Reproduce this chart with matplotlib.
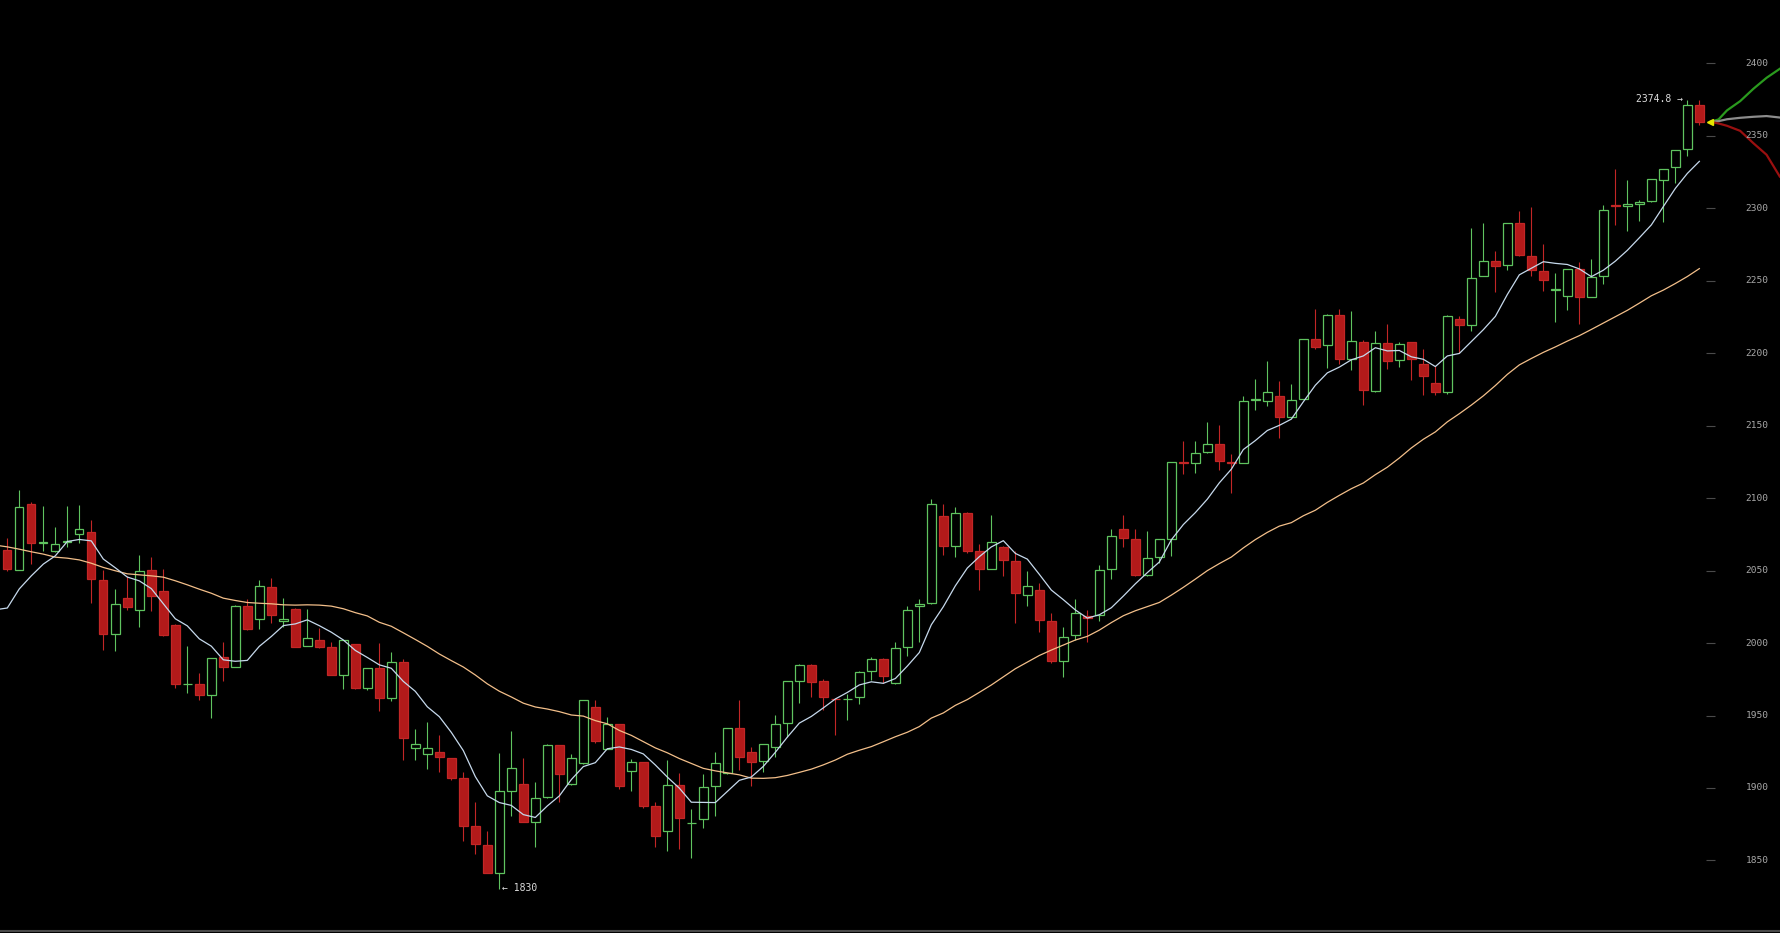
import matplotlib
matplotlib.use("Agg")
import matplotlib.pyplot as plt
from matplotlib.collections import LineCollection
import numpy as np
import pandas as pd

# OHLC per candle, oldest first
opens = [
    2064.4, 2050.5, 2096.1, 2069.2, 2063.4, 2069.9, 2075.2, 2076.8, 2043.4, 2006.1,
    2031.0, 2022.9, 2050.5, 2036.0, 2012.6, 1971.6, 1971.6, 1964.0, 1990.2, 1983.8,
    2025.7, 2016.5, 2038.6, 2014.9, 2023.4, 1998.3, 2002.0, 1997.2, 1978.3, 1999.3,
    1969.3, 1982.7, 1962.0, 1986.8, 1927.4, 1923.3, 1924.7, 1920.5, 1906.7, 1873.8,
    1860.6, 1841.1, 1898.2, 1902.5, 1876.8, 1893.6, 1929.7, 1902.5, 1917.0, 1955.9,
    1927.2, 1944.0, 1912.0, 1917.7, 1887.6, 1870.5, 1902.1, 1875.6, 1878.3, 1901.4,
    1910.1, 1941.2, 1924.6, 1918.9, 1928.5, 1944.7, 1974.1, 1984.9, 1973.9, 1961.7,
    1961.2, 1962.6, 1981.0, 1988.8, 1972.3, 1997.1, 2025.9, 2027.5, 2087.8, 2067.3,
    2089.7, 2063.7, 2051.0, 2066.2, 2056.8, 2033.3, 2036.3, 2015.3, 1987.9, 2005.7,
    2018.8, 2019.5, 2051.0, 2078.6, 2071.7, 2046.7, 2059.1, 2071.8, 2125.2, 2124.3,
    2131.6, 2137.3, 2125.3, 2124.2, 2167.7, 2167.0, 2170.2, 2156.0, 2168.6, 2209.8,
    2205.9, 2226.6, 2196.0, 2207.8, 2174.1, 2207.1, 2195.1, 2207.8, 2192.8, 2179.5,
    2173.0, 2223.7, 2219.3, 2253.6, 2263.7, 2260.7, 2290.0, 2267.4, 2257.0, 2243.7,
    2239.3, 2258.2, 2238.9, 2253.1, 2302.2, 2301.5, 2303.1, 2305.0, 2319.5, 2328.7,
    2341.1, 2371.5,
]
highs = [
    2072.4, 2105.8, 2097.3, 2094.7, 2080.0, 2094.7, 2095.4, 2085.1, 2050.5, 2037.4,
    2046.4, 2060.9, 2059.3, 2051.0, 2013.0, 1998.1, 1979.2, 1990.0, 2000.6, 2026.1,
    2030.3, 2043.6, 2044.8, 2031.0, 2024.3, 2023.4, 2010.3, 2000.4, 2002.3, 1999.5,
    1982.9, 2000.0, 1993.7, 1988.9, 1940.6, 1945.4, 1936.6, 1920.8, 1911.3, 1890.6,
    1870.3, 1924.4, 1939.4, 1920.5, 1903.9, 1930.2, 1929.9, 1923.3, 1960.8, 1960.8,
    1948.8, 1944.2, 1919.8, 1917.9, 1890.6, 1919.3, 1910.6, 1885.3, 1909.4, 1925.1,
    1941.2, 1960.8, 1928.5, 1930.4, 1950.4, 1973.9, 1985.4, 1985.4, 1975.0, 1962.1,
    1965.0, 1980.6, 1990.7, 1989.5, 2000.6, 2025.7, 2030.5, 2099.3, 2095.9, 2093.8,
    2090.4, 2068.3, 2088.5, 2067.1, 2063.7, 2049.4, 2041.3, 2020.6, 2011.4, 2030.5,
    2022.5, 2054.0, 2078.6, 2088.5, 2078.6, 2077.1, 2072.0, 2125.2, 2139.2, 2139.2,
    2152.8, 2150.2, 2130.6, 2170.2, 2182.2, 2194.9, 2181.0, 2178.7, 2210.1, 2230.8,
    2226.9, 2230.8, 2229.4, 2209.4, 2215.3, 2220.0, 2207.8, 2208.0, 2203.2, 2191.0,
    2226.2, 2226.0, 2286.5, 2290.2, 2270.9, 2290.2, 2298.0, 2301.0, 2275.5, 2255.4,
    2258.4, 2263.0, 2265.3, 2302.2, 2327.5, 2319.9, 2306.1, 2320.6, 2327.5, 2340.6,
    2374.8, 2374.5,
]
lows = [
    2049.4, 2050.1, 2054.5, 2063.2, 2063.0, 2066.2, 2069.0, 2028.0, 1995.1, 1994.8,
    2022.9, 2011.0, 2021.8, 2005.2, 1968.8, 1965.8, 1960.8, 1948.1, 1974.1, 1983.8,
    2009.1, 2009.8, 2014.2, 2011.4, 1997.6, 1998.1, 1996.3, 1978.3, 1968.6, 1968.6,
    1967.3, 1952.8, 1959.7, 1919.4, 1919.4, 1912.9, 1911.3, 1905.6, 1863.4, 1854.2,
    1841.1, 1830.0, 1880.9, 1876.8, 1859.5, 1893.1, 1890.6, 1902.1, 1916.8, 1930.9,
    1926.9, 1899.1, 1898.2, 1885.9, 1859.5, 1856.7, 1857.9, 1851.9, 1872.6, 1880.9,
    1909.7, 1912.4, 1901.6, 1911.3, 1921.6, 1935.0, 1958.5, 1963.1, 1953.9, 1936.6,
    1947.2, 1958.0, 1974.6, 1972.7, 1972.0, 1991.4, 2001.0, 2027.3, 2060.9, 2059.1,
    2062.1, 2036.7, 2050.8, 2046.6, 2014.2, 2025.9, 2007.5, 1986.1, 1976.9, 2002.2,
    2000.6, 2014.9, 2044.1, 2066.0, 2046.4, 2046.4, 2055.2, 2060.3, 2116.7, 2117.3,
    2131.2, 2119.6, 2103.5, 2124.0, 2161.0, 2163.8, 2141.5, 2155.7, 2168.4, 2202.9,
    2189.8, 2192.8, 2188.6, 2164.5, 2173.5, 2189.1, 2190.3, 2181.3, 2171.4, 2170.9,
    2171.9, 2200.2, 2215.1, 2253.1, 2242.1, 2257.7, 2267.4, 2253.6, 2243.2, 2221.4,
    2230.1, 2220.4, 2238.6, 2247.8, 2288.4, 2284.2, 2291.1, 2304.7, 2290.5, 2317.2,
    2336.0, 2357.4,
]
closes = [
    2051.0, 2093.8, 2069.0, 2069.6, 2068.3, 2070.3, 2078.6, 2044.1, 2006.1, 2026.8,
    2024.8, 2049.9, 2032.8, 2005.4, 1971.6, 1972.0, 1964.0, 1989.5, 1983.8, 2025.7,
    2009.8, 2039.5, 2019.5, 2016.7, 1997.6, 2003.4, 1997.6, 1978.3, 2002.0, 1968.9,
    1982.7, 1962.0, 1986.8, 1934.3, 1930.2, 1927.4, 1921.2, 1906.7, 1874.0, 1861.1,
    1841.5, 1897.7, 1913.6, 1876.8, 1892.9, 1929.7, 1909.4, 1920.5, 1960.5, 1932.5,
    1944.0, 1901.6, 1917.7, 1887.8, 1867.1, 1902.1, 1879.0, 1876.0, 1900.5, 1917.0,
    1941.2, 1921.2, 1918.2, 1930.2, 1944.0, 1973.7, 1984.9, 1973.4, 1962.6, 1961.2,
    1961.7, 1980.3, 1988.8, 1977.6, 1996.4, 2022.9, 2026.8, 2095.9, 2067.3, 2089.7,
    2063.7, 2051.0, 2070.1, 2057.0, 2034.4, 2039.7, 2016.0, 1987.9, 2004.5, 2020.6,
    2017.6, 2050.5, 2073.6, 2072.4, 2047.1, 2058.6, 2071.8, 2124.9, 2124.3, 2131.2,
    2137.4, 2126.0, 2124.4, 2166.8, 2168.2, 2173.0, 2156.0, 2167.5, 2209.8, 2204.3,
    2226.6, 2196.0, 2208.2, 2174.8, 2207.1, 2194.4, 2206.4, 2196.0, 2184.1, 2173.0,
    2226.0, 2219.3, 2252.0, 2263.7, 2260.0, 2290.0, 2268.1, 2257.7, 2250.8, 2244.1,
    2258.2, 2238.6, 2252.7, 2299.2, 2301.5, 2303.1, 2304.7, 2320.4, 2327.3, 2340.4,
    2371.5, 2359.7,
]

# moving-average values before enough visible candles exist (candle -1 onwards)
ma7_head = [2023.0, 2024.2, 2037.4, 2046.4, 2054.5, 2060.2, 2070.1]
ma30_head = [
    2067.6, 2066.4, 2064.8, 2063.0, 2061.4, 2059.3, 2058.6, 2057.4, 2055.1, 2052.2,
    2049.9, 2047.8, 2047.1, 2046.4, 2045.5, 2043.0, 2040.2, 2037.2, 2034.4, 2031.0,
    2029.4, 2028.0, 2027.5, 2027.1, 2026.4, 2026.2, 2026.4, 2026.2, 2025.5, 2023.7,
]

# projection lines to the right of the last candle
fc_x = [141.95, 142.6, 143.3, 144.4, 145.5, 146.6, 147.7]
fc_up = [2359.7, 2361.4, 2367.6, 2374.0, 2382.5, 2390.1, 2396.3]
fc_mid = [2359.7, 2360.2, 2361.5, 2362.5, 2363.2, 2363.7, 2362.7]
fc_down = [2359.7, 2358.6, 2357.0, 2353.5, 2345.0, 2337.0, 2322.0]

y_ticks = [1850, 1900, 1950, 2000, 2050, 2100, 2150, 2200, 2250, 2300, 2350, 2400]
last_price = 2359.7
high_idx, high_label = 140, "2374.8 \u2192"
low_idx, low_label = 41, "\u2190 1830"

BG = "#000000"
UP = "#5fc35f"
DOWN_FILL = "#b31a1a"
DOWN_EDGE = "#c22626"

fig = plt.figure(figsize=(17.8, 9.33), dpi=100, facecolor=BG)
ax = fig.add_axes([0, 2 / 933, 1, 931 / 933])
ax.set_facecolor(BG)

o = np.array(opens)
h = np.array(highs)
l = np.array(lows)
c = np.array(closes)
x = np.arange(len(c))
up = c >= o
body_lo = np.minimum(o, c)
body_hi = np.maximum(o, c)

# wicks: hollow up candles get wick outside the body only
segs, cols = [], []
for i in range(len(c)):
    if up[i]:
        segs.append([(x[i], l[i]), (x[i], body_lo[i])])
        segs.append([(x[i], body_hi[i]), (x[i], h[i])])
        cols += [UP, UP]
    else:
        segs.append([(x[i], l[i]), (x[i], h[i])])
        cols.append(DOWN_EDGE)
ax.add_collection(LineCollection(segs, colors=cols, linewidths=0.8, zorder=2))

heights = np.maximum(body_hi - body_lo, 0.3)
ax.bar(x[up], heights[up], bottom=body_lo[up], width=0.7,
       facecolor=BG, edgecolor=UP, linewidth=0.9, zorder=3)
ax.bar(x[~up], heights[~up], bottom=body_lo[~up], width=0.7,
       facecolor=DOWN_FILL, edgecolor=DOWN_EDGE, linewidth=0.9, zorder=3)

# moving averages
cs = pd.Series(closes)
ma7 = np.concatenate([ma7_head, cs.rolling(7).mean().to_numpy()[6:]])
ma30 = np.concatenate([ma30_head, cs.rolling(30).mean().to_numpy()[29:]])
ax.plot(np.arange(-1, len(c)), ma30, color="#f3bf8a", lw=0.9, zorder=4)
ax.plot(np.arange(-1, len(c)), ma7, color="#c6d9ec", lw=0.9, zorder=4)

# projections + current price marker
ax.plot(fc_x, fc_up, color="#2a9a1e", lw=1.6, zorder=4)
ax.plot(fc_x, fc_mid, color="#8c8c8c", lw=1.6, zorder=4)
ax.plot(fc_x, fc_down, color="#9a1010", lw=1.6, zorder=4)
ax.plot([141.9], [last_price], marker="<", color="#e6e600", markersize=5,
        linestyle="none", zorder=5)

# price scale drawn inside the plot
ax.hlines(y_ticks, 141.55, 142.3, color="#4a4a4a", lw=0.8, zorder=1)
for v in y_ticks:
    ax.text(145.8, v, str(v), ha="center", va="center", color="#a8a8a8",
            fontsize=6.8, family="DejaVu Sans Mono", zorder=6)

ax.annotate(high_label, (high_idx, highs[high_idx]), xytext=(-4, 1),
            textcoords="offset pixels", ha="right", va="center",
            color="#dddddd", fontsize=7, family="DejaVu Sans Mono")
ax.annotate(low_label, (low_idx, lows[low_idx]), xytext=(2.5, 1.5),
            textcoords="offset pixels", ha="left", va="center",
            color="#dddddd", fontsize=7, family="DejaVu Sans Mono")

ax.set_xlim(-0.608, 147.72)
ax.set_ylim(1801.3, 2443.8)
ax.set_xticks([])
ax.set_yticks([])
for side in ("top", "left", "right"):
    ax.spines[side].set_visible(False)
ax.spines["bottom"].set_color("#4a4a4a")
ax.spines["bottom"].set_linewidth(1.5)

fig.savefig("out.png", dpi=100, facecolor=BG)
